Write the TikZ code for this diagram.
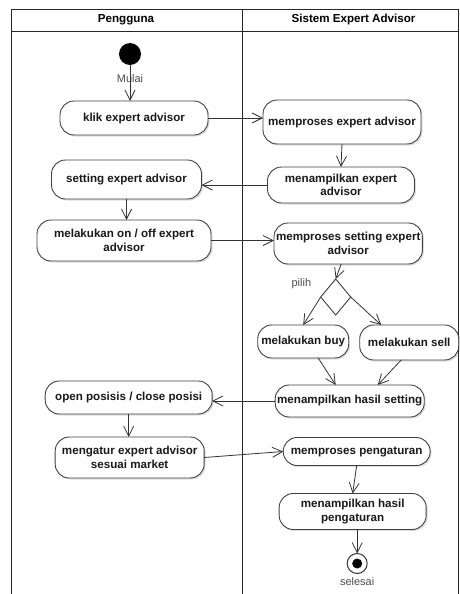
\documentclass[tikz,border=0pt]{standalone}
\usepackage{fontspec}
\setmainfont{Liberation Sans}
\usepackage{xcolor}
\usetikzlibrary{arrows.meta,positioning,shapes,shadows}

\begin{document}
\begin{tikzpicture}[x=1pt,y=1pt,font=\fontsize{11.6}{13.5}\selectfont\bfseries,
        activity/.style={draw=black!75, fill=white, rounded corners=14pt, line width=0.9pt, align=center, inner sep=2pt, outer sep=0pt, text=black!90, drop shadow={shadow xshift=1.5pt, shadow yshift=-1.5pt, opacity=0.25}},
        flow/.style={-{Straight Barb[length=10pt,width=10pt]}, draw=black!80, line width=0.8pt}]
        \tikzstyle{lane} = [draw=black!85, line width=0.9pt]
        \tikzstyle{remark} = [font=\fontsize{11}{13}\selectfont, text=black!70]
        \useasboundingbox (0,0) rectangle (459,-594);

        \draw[lane] (11,-9) rectangle (458,-594);
        \draw[lane] (11,-31) -- (458,-31);
        \draw[lane] (242,-9) -- (242,-594);
        \node (pengguna) at (126,-20) {Pengguna};
        \node (sistem) at (353.5,-20) {Sistem Expert Advisor};

        \node[circle, fill=black, minimum size=22pt, inner sep=0pt, outer sep=0pt] (start) at (130,-54) {};
        \node[remark, below=6pt of start] (mulai) {Mulai};
        \node[activity, below=36pt of start, xshift=4pt, minimum width=148pt, minimum height=34pt] (klik) {klik expert advisor};
        \node[activity, right=55pt of klik, yshift=-4pt, minimum width=158pt, minimum height=44pt] (proses) {memproses expert advisor};
        \node[activity, below=23pt of proses, xshift=-1pt, minimum width=147pt, minimum height=36pt] (tampil) {menampilkan expert\\advisor};
        \node[activity, left=66pt of tampil, yshift=5.5pt, minimum width=150pt, minimum height=39pt] (setting) {setting expert advisor};
        \node[activity, below=21pt of setting, xshift=-2.5pt, minimum width=174pt, minimum height=41pt] (onoff) {melakukan on / off expert\\advisor};
        \node[activity, right=63pt of onoff, yshift=-3pt, minimum width=147pt, minimum height=41pt] (prosset) {memproses setting expert\\advisor};
        \node[draw=black!75, fill=white, diamond, line width=0.9pt, minimum width=30pt, minimum height=36pt, inner sep=0pt, outer sep=0pt, below=15pt of prosset, xshift=-12.5pt] (pilih) {};
        \node[remark, left=6pt of pilih, yshift=13pt] (pilihlbl) {pilih};
        \node[activity, below=10pt of pilih, xshift=-32.5pt, minimum width=91pt, minimum height=33pt] (buy) {melakukan buy};
        \node[activity, right=11pt of buy, yshift=-1pt, minimum width=99pt, minimum height=35pt] (sell) {melakukan sell};
        \node[activity, below=27pt of buy, xshift=46.5pt, minimum width=148pt, minimum height=32pt] (hasil) {menampilkan hasil setting};
        \node[activity, left=63pt of hasil, yshift=3.5pt, minimum width=167pt, minimum height=33pt] (posisi) {open posisis / close posisi};
        \node[activity, below=23pt of posisi, xshift=1pt, minimum width=149pt, minimum height=41pt] (atur) {mengatur expert advisor\\sesuai market};
        \node[activity, right=79pt of atur, yshift=6pt, minimum width=147pt, minimum height=28pt] (prosatur) {memproses pengaturan};
        \node[activity, below=28pt of prosatur, xshift=-4pt, minimum width=147pt, minimum height=36pt] (tampilatur) {menampilkan hasil\\pengaturan};
        \node[circle, draw=black!80, fill=white, line width=1pt, minimum size=20pt, inner sep=0pt, outer sep=0pt, below=24pt of tampilatur, xshift=4.5pt, path picture={\fill[black] (path picture bounding box.center) circle (5pt);}] (stop) {};
        \node[remark, below=0pt of stop] (selesai) {selesai};

        \draw[flow] (start) -- (start |- klik.north);
        \draw[flow] (klik.east) -- (klik.east -| proses.west);
        \draw[flow] (proses.south) -- (tampil.north);
        \draw[flow] (tampil.west) -- (tampil.west -| setting.east);
        \draw[flow] (setting.south) -- (setting.south |- onoff.north);
        \draw[flow] (onoff.east) -- (onoff.east -| prosset.west);
        \draw[flow] ([xshift=-7pt]prosset.south) -- (pilih.north);
        \draw[flow] (pilih.west) -- (buy.north);
        \draw[flow] (pilih.east) -- ([xshift=-28pt]sell.north);
        \draw[flow] ([xshift=15pt]buy.south) -- ([xshift=-14pt]hasil.north);
        \draw[flow] ([xshift=-8pt]sell.south) -- ([xshift=28pt]hasil.north);
        \draw[flow] (hasil.west) -- (hasil.west -| posisi.east);
        \draw[flow] (posisi.south) -- (posisi.south |- atur.north);
        \draw[flow] (atur.east) -- (prosatur.west);
        \draw[flow] (prosatur.south) -- (tampilatur.north);
        \draw[flow] (stop |- tampilatur.south) -- (stop.north);
\end{tikzpicture}
\end{document}
